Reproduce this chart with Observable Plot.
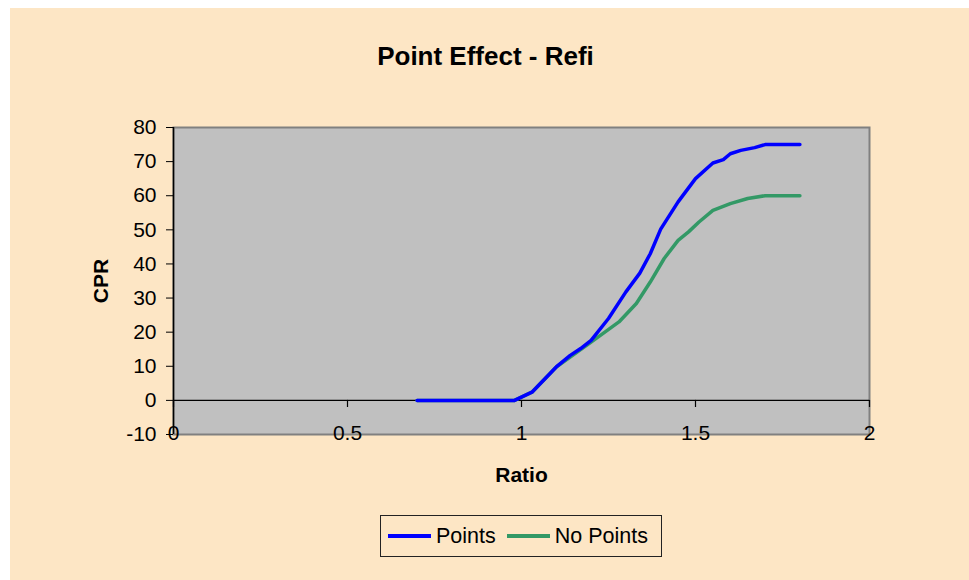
<!DOCTYPE html>
<html>
<head>
<meta charset="utf-8">
<script src="https://cdn.jsdelivr.net/npm/d3@7"></script>
<script src="https://cdn.jsdelivr.net/npm/@observablehq/plot@0.6"></script>
<style>
  html, body { margin: 0; padding: 0; background: #ffffff; }
  #panel {
    position: absolute; left: 10px; top: 8px; width: 959px; height: 572px;
    background: #FDE6C5; font-family: "Liberation Sans", Arial, sans-serif; color: #000;
  }
  #title {
    position: absolute; left: 0; top: 35px; width: 951px; text-align: center;
    font-size: 26px; font-weight: bold; line-height: 1;
  }
  #chart { position: absolute; left: 0; top: 92px; }
  #chart svg { font-family: "Liberation Sans", Arial, sans-serif; color: #000; overflow: visible; }
  #chart g[aria-label="y-axis label"] text, #chart g[aria-label="x-axis label"] text { font-weight: bold; }
  #legend {
    position: absolute; left: 370px; top: 507px; height: 42px;
    border: 1px solid #222; display: flex; align-items: center;
    padding: 0 8px 0 7px; font-size: 21.5px; box-sizing: border-box; width: 282px;
  }
  .sw { display: inline-block; width: 43px; height: 4px; margin-right: 5px; }
  .item { display: flex; align-items: center; white-space: nowrap; }
</style>
</head>
<body>
<div id="panel">
  <div id="title">Point Effect - Refi</div>
  <div id="chart"></div>
  <div id="legend"></div>
</div>
<script>
// Series names and colours
const seriesNames = ["Points", "No Points"];
const seriesColors = ["#0000FF", "#339966"];

// "Points" series (Ratio, CPR)
const pointsRatio = [0.70, 0.98, 1.03, 1.10, 1.14, 1.17, 1.20, 1.25, 1.30, 1.34, 1.37, 1.40, 1.45, 1.50, 1.55, 1.58, 1.60, 1.63, 1.67, 1.70, 1.80];
const pointsCPR   = [0,    0,    2.4,  9.8,  13.2, 15.2, 17.6, 24.0, 31.8, 37.3, 43.0, 50.2, 58.2, 65.0, 69.6, 70.6, 72.3, 73.3, 74.1, 75.0, 75.0];

// "No Points" series (Ratio, CPR)
const noPointsRatio = [0.70, 0.98, 1.03, 1.10, 1.20, 1.28, 1.33, 1.37, 1.41, 1.45, 1.48, 1.51, 1.55, 1.60, 1.65, 1.70, 1.80];
const noPointsCPR   = [0,    0,    2.4,  9.8,  17.1, 23.0, 28.4, 34.7, 41.6, 46.9, 49.4, 52.3, 55.7, 57.7, 59.2, 60.0, 60.0];

// Axis ticks
const xTicks = [0, 0.5, 1, 1.5, 2];
const yTicks = [-10, 0, 10, 20, 30, 40, 50, 60, 70, 80];

const pointsData = pointsRatio.map((x, i) => ({x, y: pointsCPR[i]}));
const noPointsData = noPointsRatio.map((x, i) => ({x, y: noPointsCPR[i]}));

const chart = Plot.plot({
  width: 959,
  height: 400,
  marginLeft: 163,
  marginRight: 100,
  marginTop: 27,
  marginBottom: 66,
  style: {background: "transparent", fontSize: "21px"},
  x: {domain: [xTicks[0], xTicks[xTicks.length - 1]]},
  y: {domain: [yTicks[0], yTicks[yTicks.length - 1]]},
  marks: [
    Plot.frame({fill: "#C0C0C0", stroke: "#808080", strokeWidth: 2}),
    Plot.ruleY([0], {stroke: "#000", strokeWidth: 1.2}),
    Plot.ruleX(xTicks, {y1: 0, y2: yTicks[0], insetBottom: 27, stroke: "#000", strokeWidth: 1.2}),
    Plot.ruleX([xTicks[0]], {stroke: "#000", strokeWidth: 1.5}),
    Plot.axisY({ticks: yTicks, tickFormat: d => String(d), tickSize: 7, tickPadding: 10, fontSize: 21,
      label: "CPR", labelAnchor: "center", labelArrow: "none", labelOffset: 80}),
    Plot.axisX({ticks: xTicks, tickFormat: d => String(d), tickSize: 0, tickPadding: -9, fontSize: 21,
      label: "Ratio", labelAnchor: "center", labelArrow: "none", labelOffset: 47}),
    Plot.line(noPointsData, {x: "x", y: "y", stroke: seriesColors[1], strokeWidth: 3.5, strokeLinejoin: "round", strokeLinecap: "round"}),
    Plot.line(pointsData, {x: "x", y: "y", stroke: seriesColors[0], strokeWidth: 3.5, strokeLinejoin: "round", strokeLinecap: "round"})
  ]
});
document.getElementById("chart").appendChild(chart);

const legend = document.getElementById("legend");
seriesNames.forEach((name, i) => {
  const item = document.createElement("span");
  item.className = "item";
  item.style.marginRight = i === 0 ? "11px" : "0";
  const sw = document.createElement("span");
  sw.className = "sw";
  sw.style.background = seriesColors[i];
  item.appendChild(sw);
  item.appendChild(document.createTextNode(name));
  legend.appendChild(item);
});
</script>
</body>
</html>
